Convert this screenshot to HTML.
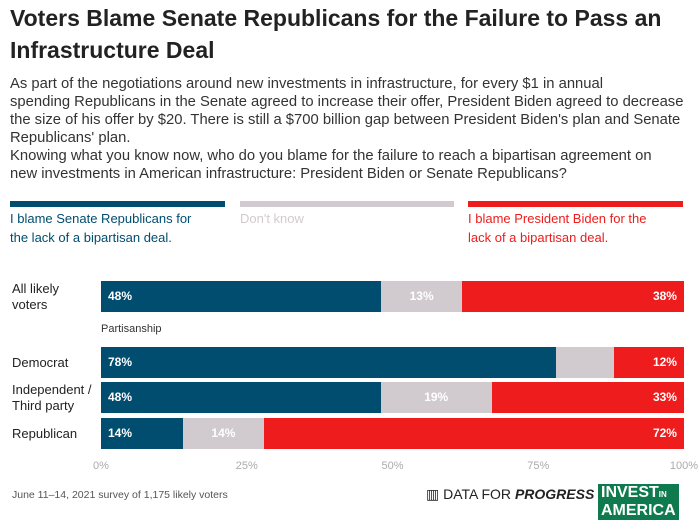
<!DOCTYPE html>
<html><head><meta charset="utf-8"><style>
body{margin:0;width:700px;height:528px;background:#fff;font-family:"Liberation Sans",sans-serif;position:relative;overflow:hidden}
.a{position:absolute}
h1{position:absolute;left:10px;top:2px;margin:0;font-size:23px;line-height:32px;font-weight:bold;color:#222;width:690px}
.sub{left:10px;top:75px;font-size:14.8px;line-height:18px;color:#333;white-space:nowrap}
.lg{font-size:13px;line-height:19px}
.rl{font-size:13px;line-height:16px;color:#222}
.tk{font-size:11px;color:#aaa;top:460px}
</style></head><body>
<h1>Voters Blame Senate Republicans for the Failure to Pass an Infrastructure Deal</h1>
<div class="a sub">As part of the negotiations around new investments in infrastructure, for every $1 in annual<br>spending Republicans in the Senate agreed to increase their offer, President Biden agreed to decrease<br>the size of his offer by $20. There is still a $700 billion gap between President Biden's plan and Senate<br>Republicans' plan.<br>Knowing what you know now, who do you blame for the failure to reach a bipartisan agreement on<br>new investments in American infrastructure: President Biden or Senate Republicans?</div>
<div class="a" style="left:10px;top:201px;width:215px;height:6px;background:#004d70"></div>
<div class="a" style="left:240px;top:201px;width:214px;height:6px;background:#d1cbcf"></div>
<div class="a" style="left:468px;top:201px;width:215px;height:6px;background:#ee1c1c"></div>
<div class="a lg" style="left:10px;top:209px;color:#004d70">I blame Senate Republicans for<br>the lack of a bipartisan deal.</div>
<div class="a lg" style="left:240px;top:209px;color:#d1cbcf">Don't know</div>
<div class="a lg" style="left:468px;top:209px;color:#ee1c1c">I blame President Biden for the<br>lack of a bipartisan deal.</div>
<div class="a" style="left:101px;top:323px;font-size:11px;color:#333">Partisanship</div>
<div id="chart"></div>
<div class="a" style="left:12px;top:489px;font-size:10.5px;color:#555">June 11–14, 2021 survey of 1,175 likely voters</div>
<div class="a" style="left:426px;top:486px;font-size:14px;color:#222">▥ DATA FOR <b><i>PROGRESS</i></b></div>
<div class="a" style="left:598px;top:484px;font-size:16px;font-weight:900;line-height:16px;color:#fff;background:#0f7a4e;padding:1px 3px">INVEST<span style="font-size:8px">IN</span><br>AMERICA</div>
<script>
const rows=["All likely voters","Democrat","Independent / Third party","Republican"];
const rowLabels=["All likely<br>voters","Democrat","Independent /<br>Third party","Republican"];
const blameRep=[48,78,48,14];
const dontKnow=[13,10,19,14];
const blameBiden=[38,12,33,72];
const ticks=[0,25,50,75,100];
const X0=101,W=583;
const x=v=>X0+v/100*W;
const tops=[281,347,382,418],H=31;
const c=document.getElementById('chart');
function mk(css,html){const d=document.createElement('div');d.className='a';d.style.cssText=css;if(html!==undefined)d.innerHTML=html;c.appendChild(d);return d;}
rows.forEach((r,i)=>{
  const l=mk(`left:12px;top:${tops[i]+H/2-(rowLabels[i].includes('<br>')?16:8)}px`,rowLabels[i]);l.classList.add('rl');
  
  
  const b1=blameRep[i],b2=dontKnow[i],b3=blameBiden[i];
  const s1=x(0),s2=x(b1),s3=x(100-b3);
  const segs=[[s1,s2,'#004d70',b1,'left'],[s2,s3,'#d1cbcf',b2,'center'],[s3,x(100),'#ee1c1c',b3,'right']];
  segs.forEach((s,k)=>{
    const d=mk(`left:${s[0]}px;top:${tops[i]}px;width:${s[1]-s[0]}px;height:${H}px;background:${s[2]};color:#fff;font-size:12px;font-weight:bold;line-height:${H}px;text-align:${s[4]};box-sizing:border-box;padding:0 7px`);
    if(!(k==1&&s[3]<12))d.textContent=s[3]+'%';
    
    
  });
});
ticks.forEach(t=>{
  const d=mk(`left:${x(t)-20}px;width:40px;text-align:center`,t+'%');d.classList.add('tk');
  
  
});
</script>
</body></html>
